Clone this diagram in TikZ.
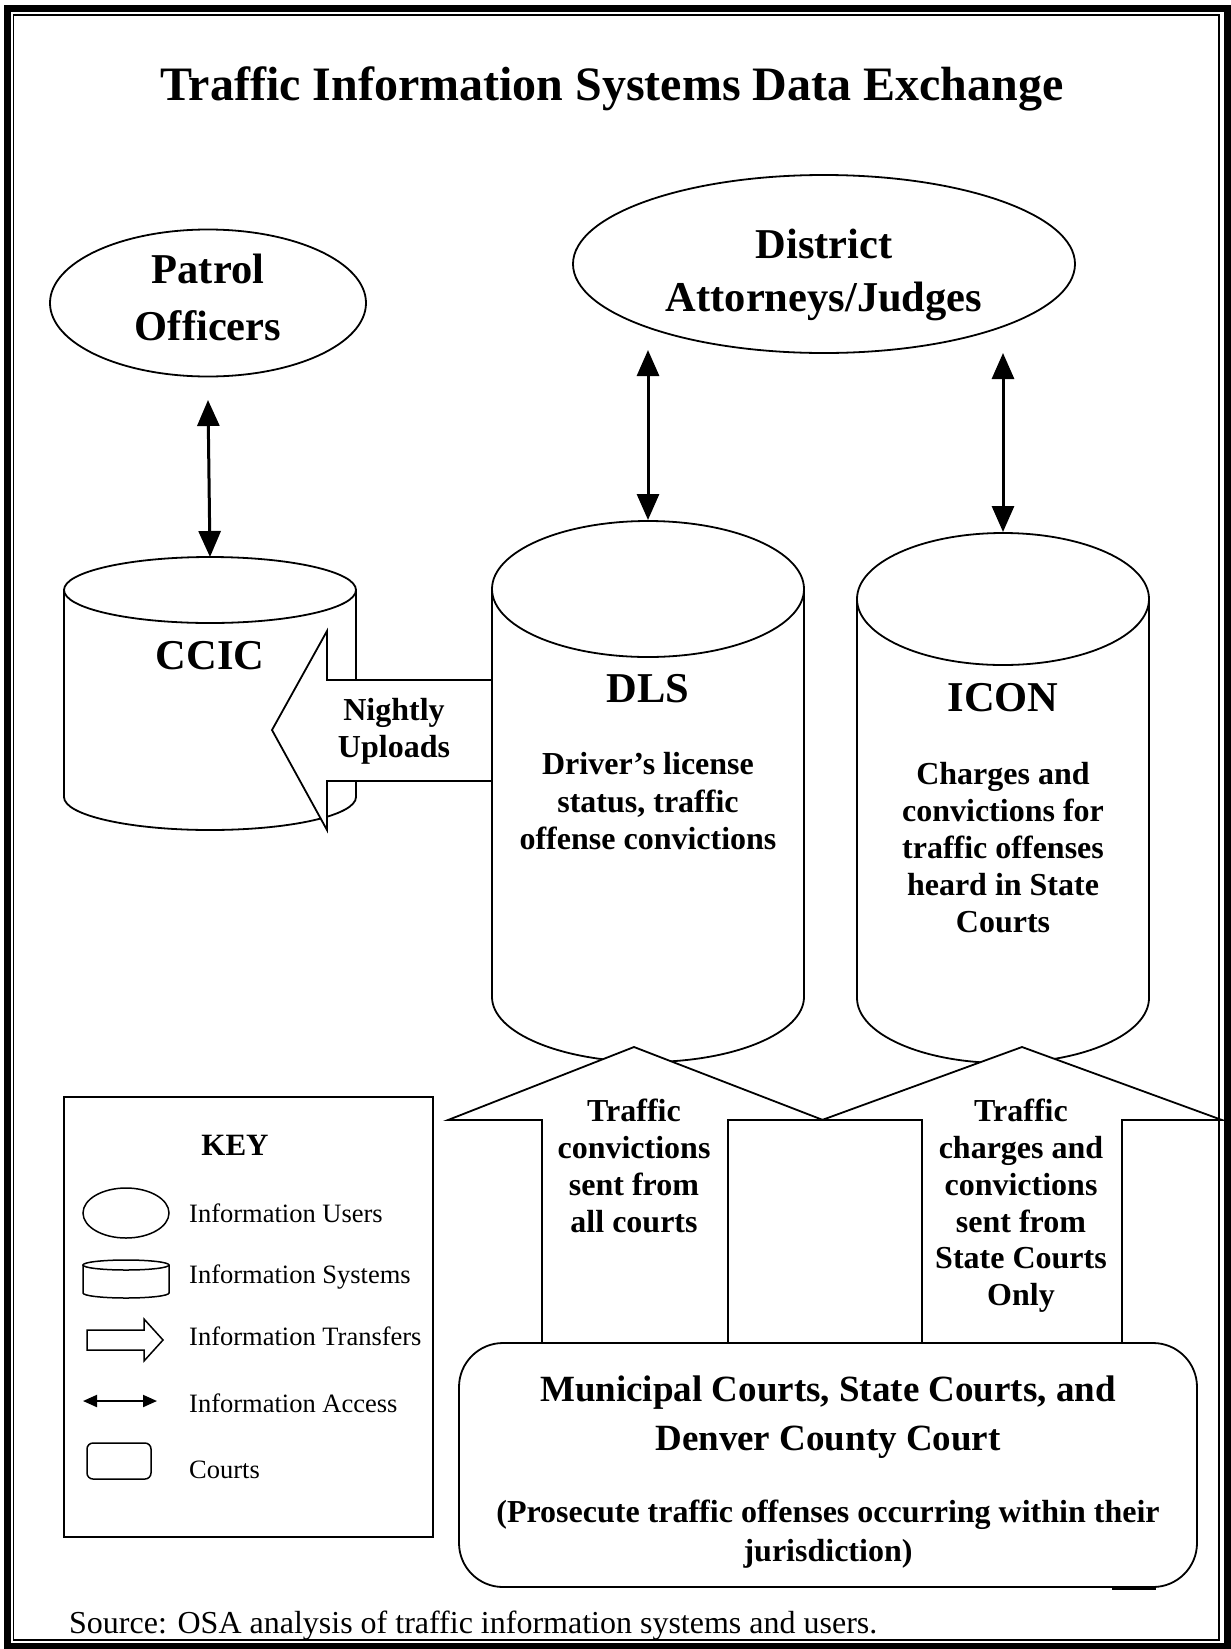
\documentclass[tikz,border=0pt]{standalone}
\usepackage{fontspec}
\setmainfont{Liberation Serif}
\usetikzlibrary{shapes.geometric,arrows.meta}
\begin{document}
\begin{tikzpicture}[x=1pt,y=-1pt,
  ln/.style={line width=1.8pt, line join=miter},
  usr/.style={ellipse, draw, line width=1.8pt, inner sep=0pt, fill=white},
  xfer/.style={draw, line width=1.8pt, fill=white, line join=miter},
  acc/.style={line width=3pt, {Triangle[length=26pt,width=22pt]}-{Triangle[length=26pt,width=22pt]}},
  big/.style={font=\fontsize{42.5}{50}\selectfont\bfseries, anchor=base, inner sep=0pt},
  med/.style={font=\fontsize{32}{37}\selectfont\bfseries, anchor=base, inner sep=0pt},
  crt/.style={font=\fontsize{37}{44}\selectfont\bfseries, anchor=base, inner sep=0pt},
  keyt/.style={font=\fontsize{26.5}{30}\selectfont, anchor=base west, inner sep=0pt},
]
\useasboundingbox (0,0) rectangle (1231,1649);

% title
\node[font=\fontsize{48}{56}\selectfont\bfseries, anchor=base, inner sep=0pt] (title) at (612,100) {Traffic Information Systems Data Exchange};

% users
\node[usr, minimum width=316pt, minimum height=147pt] (po) at (208,303) {};
\node[usr, minimum width=502pt, minimum height=178pt] (da) at (824,264) {};

% CCIC cylinder
\fill[white] (64,590) -- (64,797) arc[start angle=180,end angle=360,x radius=146pt,y radius=33pt] -- (356,590) -- cycle;
\draw[ln] (64,590) -- (64,797) arc[start angle=180,end angle=360,x radius=146pt,y radius=33pt] -- (356,590);
\draw[ln, fill=white] (210,590) ellipse[x radius=146pt, y radius=33pt];
\coordinate (ccictop) at (210,557);

% DLS cylinder
\fill[white] (492,589) -- (492,997) arc[start angle=180,end angle=360,x radius=156pt,y radius=65pt] -- (804,589) -- cycle;
\draw[ln] (492,589) -- (492,997) arc[start angle=180,end angle=360,x radius=156pt,y radius=65pt] -- (804,589);
\draw[ln, fill=white] (648,589) ellipse[x radius=156pt, y radius=68pt];
\coordinate (dlstop) at (648,520);

% ICON cylinder
\fill[white] (857,599) -- (857,998) arc[start angle=180,end angle=360,x radius=146pt,y radius=65pt] -- (1149,599) -- cycle;
\draw[ln] (857,599) -- (857,998) arc[start angle=180,end angle=360,x radius=146pt,y radius=65pt] -- (1149,599);
\draw[ln, fill=white] (1003,599) ellipse[x radius=146pt, y radius=66pt];
\coordinate (icontop) at (1003,532);

% transfer arrows
\draw[xfer] (492,680) -- (327,680) -- (327,631) -- (272,730) -- (327,830) -- (327,781) -- (492,781) -- cycle;
\draw[xfer] (542,1343) -- (542,1120) -- (448,1120) -- (634,1047) -- (823,1120) -- (728,1120) -- (728,1343) -- cycle;
\draw[xfer] (922,1343) -- (922,1120) -- (822,1120) -- (1022,1047) -- (1222,1120) -- (1122,1120) -- (1122,1343) -- cycle;

% courts
\node[draw, line width=1.8pt, rounded corners=44pt, fill=white, minimum width=738pt, minimum height=244pt, inner sep=0pt] (courts) at (828,1465) {};
\draw[line width=1.8pt] (1112,1589) -- (1156,1589);

% access arrows
\coordinate (pa) at (208,400);
\coordinate (da1a) at (648,350);
\coordinate (da2a) at (1003,353);
\draw[acc] (pa) -- (ccictop);
\draw[acc] (da1a) -- (dlstop);
\draw[acc] (da2a) -- (icontop);

% texts
\node[big] (po1) at (208,283) {Patrol};
\node[big] (po2) at (208,340) {Officers};
\node[big] (da1) at (824,258) {District};
\node[big] (da2) at (824,311) {Attorneys/Judges};
\node[big] (ccic) at (210,669) {CCIC};
\node[big] (dls) at (648,702) {DLS};
\node[big] (icon) at (1003,711) {ICON};

\node[med] (nu1) at (394,720) {Nightly};
\node[med] (nu2) at (394,757) {Uploads};

\node[med] (dl1) at (648,774) {Driver’s license};
\node[med] (dl2) at (648,812) {status, traffic};
\node[med] (dl3) at (648,849) {offense convictions};

\node[med] (ic1) at (1003,784) {Charges and};
\node[med] (ic2) at (1003,821) {convictions for};
\node[med] (ic3) at (1003,858) {traffic offenses};
\node[med] (ic4) at (1003,895) {heard in State};
\node[med] (ic5) at (1003,932) {Courts};

\node[med] (ua1) at (634,1121) {Traffic};
\node[med] (ua2) at (634,1158) {convictions};
\node[med] (ua3) at (634,1195) {sent from};
\node[med] (ua4) at (634,1232) {all courts};

\node[med] (ub1) at (1021,1121) {Traffic};
\node[med] (ub2) at (1021,1158) {charges and};
\node[med] (ub3) at (1021,1195) {convictions};
\node[med] (ub4) at (1021,1232) {sent from};
\node[med] (ub5) at (1021,1268) {State Courts};
\node[med] (ub6) at (1021,1305) {Only};

\node[crt] (ct1) at (828,1401) {Municipal Courts, State Courts, and};
\node[crt] (ct2) at (828,1450) {Denver County Court};
\node[med] (ct3) at (828,1522) {(Prosecute traffic offenses occurring within their};
\node[med] (ct4) at (828,1561) {jurisdiction)};

% key
\node[draw, line width=1.5pt, minimum width=369pt, minimum height=440pt, inner sep=0pt] (key) at (248.5,1317) {};
\node[font=\fontsize{31}{36}\selectfont\bfseries, anchor=base, inner sep=0pt] (keyh) at (235,1155) {KEY};
\node[draw, ellipse, line width=1.5pt, minimum width=86pt, minimum height=50pt, inner sep=0pt] (k1) at (126,1213) {};
\draw[line width=1.5pt] (83,1265) -- (83,1293) arc[start angle=180,end angle=360,x radius=43pt,y radius=5pt] -- (169,1265);
\draw[line width=1.5pt] (126,1265) ellipse[x radius=43pt, y radius=5pt];
\draw[line width=1.5pt, line join=miter] (87,1330) -- (144,1330) -- (144,1319) -- (163,1340) -- (144,1361) -- (144,1350) -- (87,1350) -- cycle;
\coordinate (k4a) at (83,1401);
\coordinate (k4b) at (157,1401);
\draw[line width=2pt, {Triangle[length=14pt,width=12pt]}-{Triangle[length=14pt,width=12pt]}] (k4a) -- (k4b);
\node[draw, rounded corners=6pt, line width=1.5pt, minimum width=64pt, minimum height=36pt, inner sep=0pt] (k5) at (119,1461) {};

\node[keyt] (kl1) at (189,1222) {Information Users};
\node[keyt] (kl2) at (189,1283) {Information Systems};
\node[keyt] (kl3) at (189,1345) {Information Transfers};
\node[keyt] (kl4) at (189,1412) {Information Access};
\node[keyt] (kl5) at (189,1478) {Courts};

% source
\node[font=\fontsize{32}{37}\selectfont, anchor=base west, inner sep=0pt] (src) at (69,1633) {Source: OSA analysis of traffic information systems and users.};

% border
\draw[line width=7pt] (7.5,8.5) rectangle (1227.5,1646);
\draw[line width=1.5pt] (13.5,15) rectangle (1219,1640);
\end{tikzpicture}
\end{document}
